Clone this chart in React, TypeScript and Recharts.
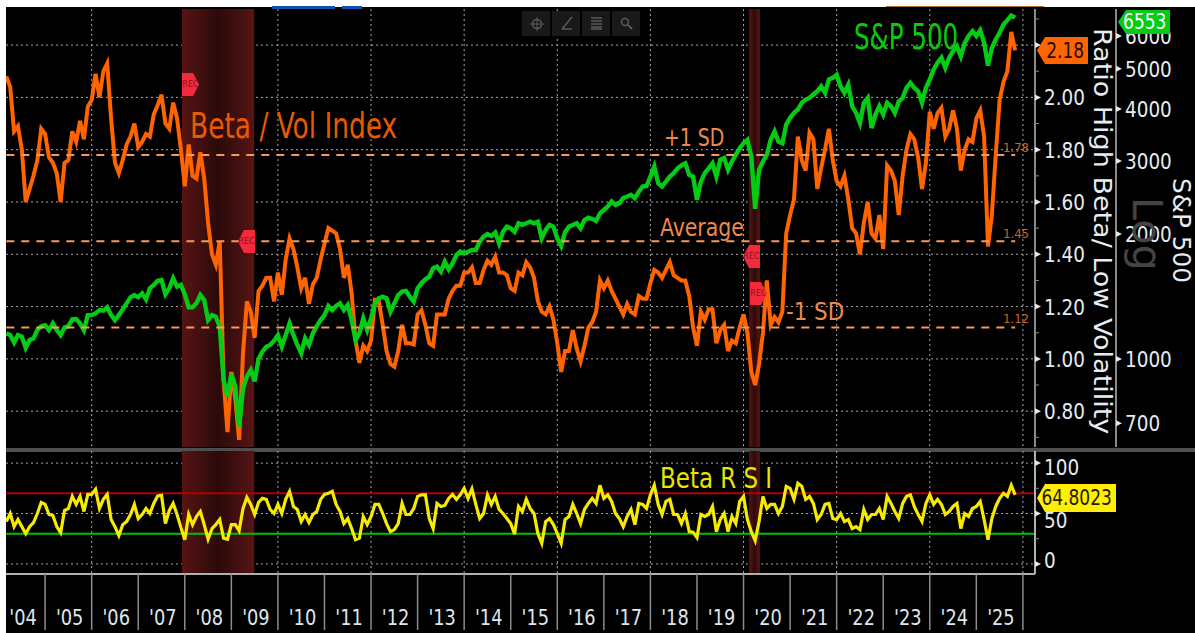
import {
  CartesianGrid,
  ComposedChart,
  Line,
  ReferenceArea,
  ReferenceLine,
  XAxis,
  YAxis,
} from "recharts";

const FONT = '"DejaVu Sans Condensed", "Liberation Sans", sans-serif';

// monthly readings, Mar 2004 to Oct 2025
const ratioValues = [
  2.08, 2.04, 1.87, 1.89, 1.8, 1.6, 1.65, 1.7, 1.76, 1.88, 1.86, 1.77, 1.75, 1.71, 1.6, 1.75, 1.76, 1.87, 1.83, 1.91,
  1.84, 1.965, 1.99, 2.09, 2.0, 2.1, 2.13, 1.92, 1.75, 1.71, 1.76, 1.82, 1.85, 1.9, 1.81, 1.83, 1.86, 1.85, 1.935, 1.97,
  2.01, 1.9, 1.88, 1.98, 1.92, 1.8, 1.66, 1.82, 1.7, 1.69, 1.79, 1.69, 1.52, 1.4, 1.36, 1.45, 0.92, 0.72, 0.95, 0.85,
  0.69, 1.02, 1.22, 1.18, 1.08, 1.26, 1.28, 1.31, 1.31, 1.22, 1.33, 1.245, 1.38, 1.46, 1.42, 1.35, 1.27, 1.31, 1.21, 1.285,
  1.31, 1.38, 1.44, 1.5, 1.49, 1.48, 1.42, 1.31, 1.36, 1.25, 1.07, 0.985, 1.05, 1.03, 1.07, 1.225, 1.22, 1.13, 1.03, 0.98,
  0.97, 1.03, 1.13, 1.06, 1.06, 1.055, 1.17, 1.185, 1.13, 1.06, 1.05, 1.17, 1.17, 1.17, 1.23, 1.26, 1.28, 1.28, 1.33, 1.33,
  1.35, 1.29, 1.29, 1.34, 1.375, 1.36, 1.39, 1.33, 1.33, 1.32, 1.27, 1.26, 1.33, 1.32, 1.37, 1.35, 1.31, 1.22, 1.18, 1.17,
  1.2, 1.15, 1.06, 0.95, 1.03, 1.03, 1.11, 1.04, 0.99, 1.05, 1.12, 1.14, 1.18, 1.3, 1.27, 1.3, 1.26, 1.23, 1.2, 1.17,
  1.21, 1.18, 1.17, 1.24, 1.23, 1.23, 1.29, 1.34, 1.33, 1.31, 1.34, 1.37, 1.32, 1.31, 1.3, 1.3, 1.24, 1.12, 1.05, 1.18,
  1.15, 1.19, 1.19, 1.06, 1.11, 1.13, 1.03, 1.07, 1.06, 1.12, 1.17, 1.1, 0.95, 0.9, 0.98, 1.1, 1.3, 1.13, 1.16, 1.14,
  1.18, 1.48, 1.55, 1.61, 1.85, 1.76, 1.72, 1.865, 1.84, 1.65, 1.73, 1.8, 1.88, 1.76, 1.68, 1.66, 1.7, 1.61, 1.5, 1.48,
  1.4, 1.52, 1.6, 1.48, 1.46, 1.55, 1.42, 1.74, 1.72, 1.68, 1.55, 1.7, 1.8, 1.86, 1.84, 1.77, 1.65, 1.75, 1.945, 1.88,
  1.94, 1.96, 1.85, 1.88, 1.95, 1.88, 1.72, 1.8, 1.84, 1.83, 1.92, 1.95, 1.85, 1.43, 1.55, 1.78, 1.99, 2.06, 2.1, 2.25,
  2.18,
];

const spxValues = [
  1153, 1142, 1096, 1142, 1132, 1064, 1111, 1121, 1174, 1200, 1206, 1174, 1219, 1174, 1142, 1191, 1200, 1246, 1248, 1219,
  1174, 1276, 1276, 1288, 1312, 1307, 1332, 1276, 1241, 1276, 1317, 1362, 1408, 1426, 1408, 1439, 1392, 1480, 1508, 1544,
  1550, 1432, 1480, 1565, 1494, 1508, 1432, 1332, 1332, 1362, 1426, 1387, 1241, 1276, 1265, 1196, 890, 812, 924, 858,
  687, 848, 907, 941, 884, 1000, 1041, 1071, 1081, 1107, 1142, 1071, 1142, 1219, 1142, 1081, 1032, 1121, 1081, 1153,
  1200, 1241, 1276, 1342, 1312, 1342, 1362, 1312, 1350, 1241, 1111, 1153, 1253, 1174, 1253, 1362, 1400, 1413, 1400, 1300,
  1362, 1426, 1453, 1459, 1413, 1375, 1480, 1522, 1556, 1579, 1654, 1669, 1624, 1716, 1645, 1700, 1780, 1814, 1797, 1814,
  1831, 1831, 1917, 1971, 2000, 1978, 2016, 1900, 2024, 2084, 2065, 2024, 2123, 2104, 2123, 2142, 2123, 2142, 1953, 2046,
  2104, 2084, 1953, 1873, 2024, 2084, 2104, 2123, 2065, 2162, 2190, 2175, 2150, 2244, 2285, 2329, 2395, 2350, 2373, 2440,
  2462, 2485, 2440, 2530, 2603, 2610, 2750, 2909, 2650, 2603, 2675, 2750, 2803, 2880, 2925, 2960, 2775, 2750, 2417, 2675,
  2803, 2880, 2960, 2750, 3019, 3050, 2855, 2990, 3105, 3220, 3310, 3374, 3076, 2300, 2855, 2990, 3105, 3374, 3535, 3340,
  3310, 3670, 3810, 3914, 3990, 4140, 4215, 4255, 4335, 4415, 4539, 4374, 4711, 4755, 4840, 4539, 4374, 4580, 4062, 3914,
  3700, 4140, 4255, 3600, 3880, 4062, 3880, 4140, 4062, 3914, 4170, 4255, 4500, 4625, 4500, 4415, 4140, 4500, 4711, 4980,
  5170, 5315, 5025, 5315, 5515, 5669, 5360, 5775, 5995, 6160, 5995, 6190, 5775, 5090, 5615, 5883, 6105, 6390, 6550, 6720,
  6640,
];

const rsiValues = [
  42, 50, 37, 44, 37, 30, 37, 41, 50, 61, 59, 49, 48, 37, 31, 53, 55, 67, 59, 67,
  52, 69, 69, 74, 55, 64, 69, 44, 37, 28, 39, 42, 49, 59, 45, 49, 55, 50, 60, 67.5,
  68, 40, 53, 60, 49, 36, 24, 49, 39, 47, 52, 39, 24.5, 35, 39, 44, 25.5, 24.5, 39, 39,
  33, 55, 66, 59, 49, 61, 65, 64, 54, 50, 59, 50, 64, 72, 57, 54, 42, 49, 41, 49,
  52, 64, 69, 70, 72, 59, 52, 40, 45, 35, 24, 25.5, 47, 39, 47, 59, 59, 50, 40, 32,
  34, 40, 60, 49, 49, 55, 67, 68.5, 68.5, 45, 35, 60, 57, 58, 65, 69, 64, 68.5, 75, 65,
  74.5, 59, 45, 50, 68.5, 59, 67, 54, 50, 45, 40, 29.5, 57, 52, 64, 55, 50, 30, 20.5, 42,
  45, 39, 30, 20.5, 44, 47, 59, 50, 40, 54, 60, 65, 60, 78, 65, 68.5, 62, 50, 45, 37,
  47, 54, 39, 60, 59, 55, 68.5, 78, 59, 49, 62, 64, 49, 49, 40, 50, 32, 31.5, 26, 49,
  47, 49, 57, 32, 44, 50, 32, 47, 40, 62, 67, 44, 32, 23, 42, 67, 55, 59, 59, 50,
  57, 77, 75, 64, 80, 77, 64, 67, 60, 44, 49, 59, 60, 45, 44, 50, 42, 44, 35, 37,
  34, 54, 44, 49, 49, 55, 44, 67, 60, 52, 45, 60, 67, 68.5, 57, 49, 42, 60, 68.5, 59,
  64, 59, 49, 52, 57, 60, 35, 50, 47, 55, 57, 62, 44, 24, 45, 57, 65, 70, 67, 78,
  68.5,
];

const yearTicks = [2005, 2006, 2007, 2008, 2009, 2010, 2011, 2012, 2013, 2014, 2015, 2016, 2017, 2018, 2019, 2020, 2021, 2022, 2023, 2024, 2025, 2026];
const gridYears = [2006, 2008, 2010, 2012, 2014, 2016, 2018, 2020, 2022, 2024, 2026];
const ratioTicks = [0.8, 1.0, 1.2, 1.4, 1.6, 1.8, 2.0, 2.2];
const ratioMinorTicks = [0.7, 0.9, 1.1, 1.3, 1.5, 1.7, 1.9, 2.1, 2.3];
const spxTicks = [700, 1000, 2000, 3000, 4000, 5000, 6000];
const rsiTicks = [0, 50, 100];
const rsiMinorTicks = [25, 75];
const sdLevels = [1.78, 1.45, 1.12];
const recessions = [
  [2007.94, 2009.49],
  [2020.12, 2020.35],
];

const START = 2004.167;
const LAST = START + (ratioValues.length - 1) / 12;
const X_DOMAIN = [2004.16, 2026.26];

const topData = ratioValues.map((ratio, i) => ({ t: START + i / 12, ratio, spx: spxValues[i] }));
const rsiData = rsiValues.map((rsi, i) => ({ t: START + i / 12, rsi }));

function AxisTick({ x, y, payload, minor, digits, nudge, covered = [] }: any) {
  const v = payload.value;
  if (minor.includes(v)) {
    return <line x1={x} x2={x + 4} y1={y} y2={y} stroke="#8a8a8a" strokeWidth={1} />;
  }
  const dy = nudge ? nudge[v] || 0 : 0;
  return (
    <g>
      <path d={`M${x},${y - 3} L${x + 6},${y} L${x},${y + 3} Z`} fill="#e8e8e8" />
      {/* the last-value tag sits on top of this label in the original */}
      {!covered.includes(v) && (
        <text
          transform={`translate(${x + 9},${y + 8 + dy}) scale(0.93,1)`}
          fill="#e6ecf2"
          fontSize={22}
          fontFamily={FONT}
        >
          {v.toFixed(digits)}
        </text>
      )}
    </g>
  );
}

function YearTick({ x, y, payload }: any) {
  return (
    <g>
      <line x1={x} x2={x} y1={y} y2={y + 56} stroke="#8c8c8c" strokeWidth={1.5} />
      <text
        transform={`translate(${x - 22},${y + 51}) scale(0.9,1)`}
        textAnchor="middle"
        fill="#dfe6ee"
        fontSize={22}
        fontFamily={FONT}
      >
        {"'" + String(payload.value - 1).slice(2)}
      </text>
    </g>
  );
}

function Txt({ x, y, size, color, children, rotate, sx = 1 }: any) {
  return (
    <div
      style={{
        position: "absolute",
        left: x,
        top: y,
        fontFamily: FONT,
        fontSize: size,
        lineHeight: 1,
        color,
        whiteSpace: "pre",
        transform: `rotate(${rotate || 0}deg) scaleX(${sx})`,
        transformOrigin: "0 0",
      }}
    >
      {children}
    </div>
  );
}

function Tag({ x, y, w, h, bg, color, size, sx = 0.86, children }: any) {
  return (
    <div
      style={{
        position: "absolute",
        left: x,
        top: y,
        width: w,
        height: h,
        background: bg,
        color,
        fontFamily: FONT,
        fontSize: size,
        lineHeight: h + "px",
        display: "flex",
        justifyContent: "flex-end",
        paddingRight: 4,
        boxSizing: "border-box",
        clipPath: `polygon(0 50%, 8px 0, 100% 0, 100% 100%, 8px 100%)`,
      }}
    >
      <span style={{ flexShrink: 0, transform: `scaleX(${sx})`, transformOrigin: "100% 50%" }}>{children}</span>
    </div>
  );
}

function Rec({ x, y, right }: any) {
  return (
    <div
      style={{
        position: "absolute",
        left: x,
        top: y,
        width: 17,
        height: 23,
        background: "#f22a3c",
        color: "#8c1220",
        fontFamily: FONT,
        fontSize: 9,
        lineHeight: "23px",
        textAlign: "center",
        clipPath: right
          ? "polygon(0 0, 65% 0, 100% 50%, 65% 100%, 0 100%)"
          : "polygon(35% 0, 100% 0, 100% 100%, 35% 100%, 0 50%)",
      }}
    >
      REC
    </div>
  );
}

function Toolbar() {
  const boxes = [522, 552, 582, 612];
  return (
    <svg style={{ position: "absolute", left: 0, top: 0 }} width={700} height={40}>
      {boxes.map((x) => (
        <rect key={x} x={x} y={11} width={28} height={25} fill="#191919" />
      ))}
      <circle cx={537} cy={24} r={4.5} fill="none" stroke="#5a5a5a" strokeWidth={1.5} />
      <path d="M537,17V31M530,24H544" stroke="#5a5a5a" strokeWidth={1} />
      <path d="M562,29L572,17M562,29H572" stroke="#5a5a5a" strokeWidth={1.5} fill="none" />
      <path d="M591,18H602M591,21H602M591,24H602M591,27H602M591,29H602" stroke="#5a5a5a" strokeWidth={1.3} />
      <circle cx={625} cy={22} r={3.5} fill="none" stroke="#5a5a5a" strokeWidth={1.5} />
      <path d="M628,25L632,29" stroke="#5a5a5a" strokeWidth={2} />
    </svg>
  );
}

export default function App() {
  return (
    <div style={{ position: "absolute", left: 0, top: 0, width: 1195, height: 633, background: "#fff", overflow: "hidden" }}>
      <div style={{ position: "absolute", left: 6, top: 7, width: 1189, height: 626, background: "#000" }} />
      <div style={{ position: "absolute", left: 272, top: 6, width: 63, height: 3, background: "#1050b0" }} />
      <div style={{ position: "absolute", left: 342, top: 6, width: 20, height: 3, background: "#1050b0" }} />
      <div style={{ position: "absolute", left: 886, top: 6, width: 158, height: 1, background: "#a87030" }} />

      <div style={{ position: "absolute", left: 6, top: 7 }}>
        <ComposedChart width={1189} height={440} data={topData} margin={{ top: 2, right: 0, bottom: 0, left: 0 }}>
          <defs>
            <linearGradient id="recTop" x1="0" x2="1" y1="0" y2="0">
              <stop offset="0%" stopColor="#571414" />
              <stop offset="50%" stopColor="#2c0a0a" />
              <stop offset="100%" stopColor="#571414" />
            </linearGradient>
          </defs>
          {recessions.map((r) => (
            <ReferenceArea key={r[0]} yAxisId="ratio" x1={r[0]} x2={r[1]} fill="url(#recTop)" fillOpacity={1} stroke="none" />
          ))}
          <CartesianGrid
            yAxisId="ratio"
            stroke="#a8a8a8"
            strokeWidth={1}
            strokeDasharray="2 3"
            horizontalValues={ratioTicks}
            verticalValues={gridYears}
          />
          <XAxis dataKey="t" type="number" domain={X_DOMAIN} allowDataOverflow hide />
          <YAxis
            yAxisId="ratio"
            orientation="right"
            domain={[0.663, 2.338]}
            ticks={[...ratioMinorTicks, ...ratioTicks].sort((a, b) => a - b)}
            interval={0}
            width={81}
            allowDataOverflow
            tickLine={false}
            tickSize={0}
            tickMargin={0}
            axisLine={{ stroke: "#8a8a8a", strokeWidth: 2 }}
            tick={<AxisTick minor={ratioMinorTicks} digits={2} covered={[2.2]} />}
          />
          <YAxis
            yAxisId="spx"
            orientation="right"
            scale="log"
            domain={[614, 6966]}
            ticks={spxTicks}
            interval={0}
            width={79}
            allowDataOverflow
            tickLine={false}
            tickSize={0}
            tickMargin={0}
            axisLine={{ stroke: "#8a8a8a", strokeWidth: 2 }}
            tick={<AxisTick minor={[]} digits={0} />}
          />
          <Line yAxisId="ratio" dataKey="ratio" stroke="#ff6400" strokeWidth={4} dot={false} isAnimationActive={false} />
          <Line yAxisId="spx" dataKey="spx" stroke="#04cc14" strokeWidth={4.4} dot={false} isAnimationActive={false} />
          {sdLevels.map((level) => (
            <ReferenceLine
              key={level}
              yAxisId="ratio"
              segment={[
                { x: START, y: level },
                { x: LAST, y: level },
              ]}
              stroke="#f59a5e"
              strokeWidth={2}
              strokeDasharray="8 7"
            />
          ))}
        </ComposedChart>
      </div>

      <div style={{ position: "absolute", left: 6, top: 448, width: 1189, height: 4, background: "#4e4e4e" }} />

      <div style={{ position: "absolute", left: 6, top: 451 }}>
        <ComposedChart width={1189} height={182} data={rsiData} margin={{ top: 0, right: 0, bottom: 0, left: 0 }}>
          <defs>
            <linearGradient id="recLow" x1="0" x2="1" y1="0" y2="0">
              <stop offset="0%" stopColor="#571414" />
              <stop offset="50%" stopColor="#2c0a0a" />
              <stop offset="100%" stopColor="#571414" />
            </linearGradient>
          </defs>
          {recessions.map((r) => (
            <ReferenceArea key={r[0]} yAxisId="rsi" x1={r[0]} x2={r[1]} fill="url(#recLow)" fillOpacity={1} stroke="none" />
          ))}
          <CartesianGrid
            yAxisId="rsi"
            stroke="#a8a8a8"
            strokeWidth={1}
            strokeDasharray="2 3"
            horizontalValues={rsiTicks}
            verticalValues={gridYears}
          />
          <XAxis
            dataKey="t"
            type="number"
            domain={X_DOMAIN}
            allowDataOverflow
            ticks={yearTicks}
            interval={0}
            height={59}
            tickSize={0}
            tickMargin={0}
            tickLine={false}
            axisLine={{ stroke: "#b0b0b0", strokeWidth: 2 }}
            tick={<YearTick />}
          />
          <YAxis
            yAxisId="rsi"
            orientation="right"
            domain={[-10, 112]}
            ticks={[0, 25, 50, 75, 100]}
            interval={0}
            width={160}
            allowDataOverflow
            tickLine={false}
            tickSize={0}
            tickMargin={0}
            axisLine={{ stroke: "#b0b0b0", strokeWidth: 2 }}
            tick={<AxisTick minor={rsiMinorTicks} digits={0} nudge={{ 100: 4, 0: -4, 50: 6 }} />}
          />
          <ReferenceLine yAxisId="rsi" y={70} stroke="#b00000" strokeWidth={2} />
          <ReferenceLine yAxisId="rsi" y={30} stroke="#00c000" strokeWidth={2} />
          <Line yAxisId="rsi" dataKey="rsi" stroke="#f6ea00" strokeWidth={3.2} dot={false} isAnimationActive={false} />
        </ComposedChart>
      </div>

      <Toolbar />

      <Txt x={190} y={109} size={35} sx={0.84} color="#e85a00">Beta / Vol Index</Txt>
      <Txt x={854} y={20} size={35} sx={0.78} color="#0acb0a">S&amp;P 500</Txt>
      <Txt x={664} y={125} size={25} sx={0.84} color="#ec8a4c">+1 SD</Txt>
      <Txt x={660} y={215} size={25} sx={0.91} color="#ec8a4c">Average</Txt>
      <Txt x={786} y={299} size={25} sx={0.95} color="#ec8a4c">-1 SD</Txt>
      <Txt x={660} y={464} size={29} sx={0.88} color="#e6e600">Beta R S I</Txt>
      <Txt x={1003} y={141} size={13} color="#c4682c">1.78</Txt>
      <Txt x={1003} y={227} size={13} color="#c4682c">1.45</Txt>
      <Txt x={1003} y={312} size={13} color="#c4682c">1.12</Txt>

      <Txt x={1115} y={28} size={25} sx={1.2} color="#e6ecf2" rotate={90}>Ratio High Beta/ Low Volatility</Txt>
      <Txt x={1194} y={178} size={25} sx={1.1} color="#e6ecf2" rotate={90}>S&amp;P 500</Txt>
      <Txt x={1167} y={197} size={40} sx={1.15} color="#444" rotate={90}>Log</Txt>

      <Rec x={182} y={73} right />
      <Rec x={238} y={230} />
      <Rec x={743} y={245} />
      <Rec x={750} y={282} right />

      <Tag x={1037} y={37} w={51} h={27} bg="#ff6400" color="#1c0a00" size={22}>2.18</Tag>
      <Tag x={1118} y={10} w={52} h={24} bg="#04cc14" color="#fff" size={22}>6553</Tag>
      <Tag x={1037} y={484} w={79} h={28} bg="#ffee00" color="#202000" size={22}>64.8023</Tag>
    </div>
  );
}
